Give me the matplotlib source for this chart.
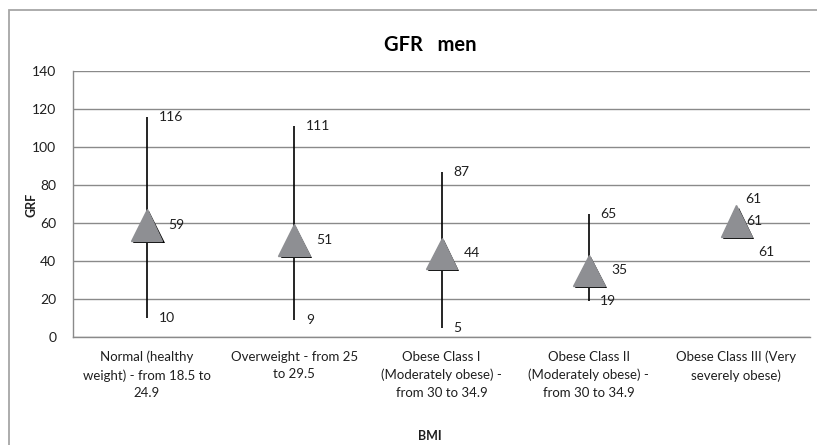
import matplotlib
matplotlib.use("Agg")
import matplotlib.pyplot as plt
import matplotlib.patheffects as pe
from matplotlib.patches import Rectangle

categories = [
    "Normal (healthy\nweight) - from 18.5 to\n24.9",
    "Overweight - from 25\nto 29.5",
    "Obese Class I\n(Moderately obese) -\nfrom 30 to 34.9",
    "Obese Class II\n(Moderately obese) -\nfrom 30 to 34.9",
    "Obese Class III (Very\nseverely obese)",
]
high = [116, 111, 87, 65, 61]
low = [10, 9, 5, 19, 61]
mean = [59, 51, 44, 35, 61]
yticks = [0, 20, 40, 60, 80, 100, 120, 140]

# label offsets in pixels (dx, dy) for high, mean, low labels
off_high = [(12, 0), (12, 0), (12, 0), (11, 0), (9, 22)]
off_mean = [(22, 0), (22, 0), (22, 0), (22, 0), (10, 0)]
off_low = [(12, 0), (12, 0), (12, 0), (11, 0), (22, -31)]

FONT = "Lato"
TXT = "#1f1f1f"
GRID = "#8a8a8a"

W, H = 817, 445
fig = plt.figure(figsize=(W / 100, H / 100), dpi=100)
fig.patch.set_facecolor("white")
fig.patches.append(Rectangle((9 / W, -0.1), 1.2, 1 - 10 / H + 0.1,
                             transform=fig.transFigure, fill=False,
                             edgecolor="#a6a6a6", linewidth=1.3))

ax = fig.add_axes([73 / W, 1 - 337 / H, (810 - 73) / W, (337 - 71) / H])
x = list(range(len(categories)))
ax.set_xlim(-0.5, len(categories) - 0.5)
ax.set_ylim(0, 140)
ax.set_yticks(yticks)
ax.grid(axis="y", color=GRID, linewidth=1)
ax.set_axisbelow(True)
for s in ["top", "right"]:
    ax.spines[s].set_visible(False)
for s in ["left", "bottom"]:
    ax.spines[s].set_color(GRID)
    ax.spines[s].set_linewidth(1)
ax.tick_params(axis="both", length=0, colors=TXT)
ax.tick_params(axis="y", pad=12, labelsize=10)
ax.tick_params(axis="x", pad=10, labelsize=9.5)
ax.set_xticks(x)
ax.set_xticklabels(categories, fontfamily=FONT, linespacing=1.55)
for t in ax.get_yticklabels():
    t.set_fontfamily(FONT)

ax.vlines(x, low, high, color="black", linewidth=1.2, zorder=3)
ax.plot(x, mean, linestyle="none", marker="^", markersize=22.5,
        markerfacecolor="#8e8f93", markeredgecolor="#8e8f93", zorder=4,
        path_effects=[pe.SimplePatchShadow(offset=(1.6, -1.6), shadow_rgbFace="black", alpha=1),
                      pe.Normal()])

for i in x:
    for val, off in ((high[i], off_high[i]), (mean[i], off_mean[i]), (low[i], off_low[i])):
        ax.annotate(str(val), (i, val), xytext=(off[0] * 0.72, off[1] * 0.72),
                    textcoords="offset points", ha="left", va="center",
                    fontsize=10, fontfamily=FONT, color=TXT, zorder=5)

fig.text(430 / W, 1 - 45 / H, "GFR   men", ha="center", va="center",
         fontsize=14.5, fontweight="bold", fontfamily=FONT, color="black")
fig.text(430 / W, 1 - 436 / H, "BMI", ha="center", va="center",
         fontsize=9, fontweight="bold", fontfamily=FONT, color=TXT)
fig.text(32 / W, 1 - 205 / H, "GRF", ha="center", va="center", rotation=90,
         fontsize=9, fontweight="bold", fontfamily=FONT, color=TXT)

fig.savefig("out.png", dpi=100)
